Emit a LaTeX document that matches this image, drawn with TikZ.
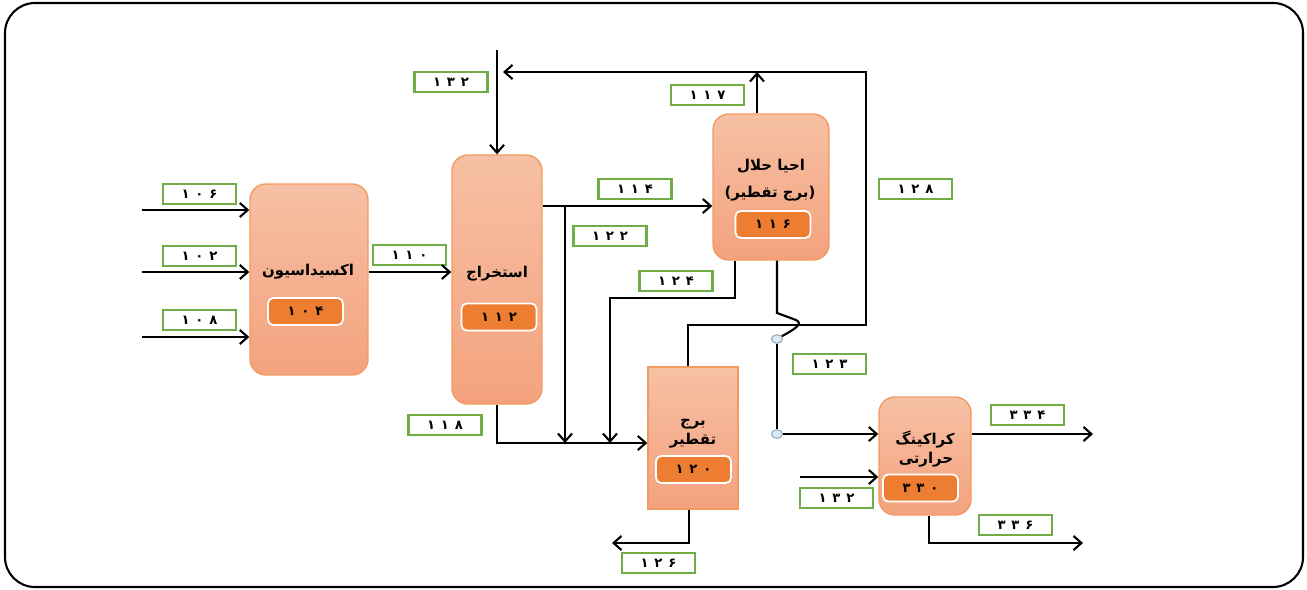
\documentclass[tikz,border=0pt]{standalone}
\usepackage{fontspec}
\newfontfamily\fa[Script=Arabic]{DejaVu Sans}
\newfontfamily\fanum[Script=Arabic,LetterSpace=45]{DejaVu Sans}
\TeXXeTstate=1
\usetikzlibrary{arrows.meta,shapes.geometric}
\definecolor{unittop}{HTML}{F6C0A4}
\definecolor{unitbot}{HTML}{F4A27D}
\definecolor{unitline}{HTML}{F39A62}
\definecolor{tagfill}{HTML}{ED7D31}
\definecolor{labline}{HTML}{70AD47}
\definecolor{dotfill}{HTML}{DDEBF7}
\definecolor{dotline}{HTML}{8FA9BC}
\newcommand{\rtl}[1]{\beginR #1\endR}

\begin{document}
\begin{tikzpicture}[x=0.02cm, y=-0.02cm, line width=1.2pt,
  >={Straight Barb[length=4.5pt,width=8pt]},
  unit/.style = {draw=unitline, line width=0.8pt, rounded corners=9pt, top color=unittop, bottom color=unitbot},
  tag/.style = {draw=white, line width=1pt, fill=tagfill, rounded corners=3pt, minimum width=1.5cm, minimum height=0.54cm, font=\fanum\bfseries\fontsize{7.5}{8}\selectfont},
  lab/.style = {draw=labline, line width=1.3pt, fill=white, minimum width=1.46cm, minimum height=0.4cm, inner sep=0pt, font=\fanum\bfseries\fontsize{7.5}{8}\selectfont},
  title/.style = {font=\fa\bfseries\fontsize{8.5}{10}\selectfont, inner sep=0pt},
  dot/.style = {ellipse, draw=dotline, fill=dotfill, line width=0.6pt, minimum width=0.22cm, minimum height=0.17cm, inner sep=0pt}]
  \useasboundingbox (0,0) rectangle (1307,589);
  \draw[line width=1.2pt, rounded corners=0.6cm] (5,3) rectangle (1303,587);

  % units
  \node[unit, minimum width=2.36cm, minimum height=3.82cm] (104) at (309,279.5) {};
  \node[unit, minimum width=1.8cm, minimum height=4.98cm] (112) at (497,279.5) {};
  \node[unit, minimum width=2.32cm, minimum height=2.92cm] (116) at (771,187) {};
  \node[unit, rounded corners=0pt, minimum width=1.8cm, minimum height=2.84cm] (120) at (693,438) {};
  \node[unit, minimum width=1.84cm, minimum height=2.36cm] (330) at (925,456) {};

  \node[title] (t104) at (308,272) {\rtl{اکسیداسیون}};
  \node[title] (t112) at (497,274) {\rtl{استخراج}};
  \node[title] (t116a) at (771,166) {\rtl{احیا حلال}};
  \node[title] (t116b) at (770,194) {\rtl{(برج تقطیر)}};
  \node[title] (t120a) at (693,424) {\rtl{برج}};
  \node[title] (t120b) at (693,441) {\rtl{تقطیر}};
  \node[title] (t330a) at (925,440) {\rtl{کراکینگ}};
  \node[title] (t330b) at (926,460) {\rtl{حرارتی}};

  \node[tag] (g104) at (305.5,311.5) {۱۰۴};
  \node[tag] (g112) at (499,317) {۱۱۲};
  \node[tag] (g116) at (773,224.5) {۱۱۶};
  \node[tag] (g120) at (693.5,469.5) {۱۲۰};
  \node[tag] (g330) at (920.5,488) {۳۳۰};

  % stream labels
  \node[lab] (106) at (199.5,194) {۱۰۶};
  \node[lab] (102) at (199.5,256) {۱۰۲};
  \node[lab] (108) at (199.5,320) {۱۰۸};
  \node[lab] (110) at (409.5,255) {۱۱۰};
  \node[lab] (132) at (451,82) {۱۳۲};
  \node[lab] (118) at (445,425) {۱۱۸};
  \node[lab] (114) at (635,189) {۱۱۴};
  \node[lab] (122) at (610,236) {۱۲۲};
  \node[lab] (124) at (676,281) {۱۲۴};
  \node[lab] (117) at (707.5,95) {۱۱۷};
  \node[lab] (128) at (915.5,189) {۱۲۸};
  \node[lab] (123) at (829.5,364) {۱۲۳};
  \node[lab] (126) at (658.5,563) {۱۲۶};
  \node[lab] (334) at (1027.5,415) {۳۳۴};
  \node[lab] (336) at (1015.5,525) {۳۳۶};
  \node[lab] (132b) at (836.5,498) {۱۳۲};

  % free ends and junctions
  \coordinate (in106) at (142,210);
  \coordinate (in102) at (142,272);
  \coordinate (in108) at (142,337);
  \coordinate (in132) at (497,50);
  \coordinate (j122) at (565,206);
  \coordinate (b118) at (497,443);
  \coordinate (k124) at (610,298);
  \coordinate (h123) at (777,313);
  \coordinate (c128) at (866,325);
  \coordinate (t128) at (866,72);
  \coordinate (e128) at (503,72);
  \coordinate (o126) at (612,543);
  \coordinate (o334) at (1093,434);
  \coordinate (o336) at (1083,543);
  \coordinate (i132) at (800,477);

  \draw[->] (in106) to (in106 -| 104.west);
  \draw[->] (in102) to (in102 -| 104.west);
  \draw[->] (in108) to (in108 -| 104.west);
  \draw[->] (104.east |- in102) to (112.west |- in102);
  \draw[->] (in132) to (112.north);
  \draw[->] (112.east |- j122) to (116.west |- j122);
  \draw[->] (j122) to (j122 |- b118);
  \draw[->] (112.south) |- (120.west |- b118);
  \draw[->] ([xshift=-0.72cm]116.south) |- (k124) to (k124 |- b118);
  \draw[->] ([xshift=-0.1cm]120.north) |- (c128) -- (t128) -- (e128);
  \draw[->] ([xshift=-0.28cm]116.north) to ([xshift=-0.28cm]116.north |- t128);
  \node[dot] (d1) at (777,339) {};
  \node[dot] (d2) at (777,434) {};
  \draw ([xshift=0.12cm]116.south) -- (h123) -- ++(19,7) .. controls +(9,4) and +(14,-8) .. (d1);
  \draw (d1) -- (d2);
  \draw[->] (d2) to (330.west |- d2);
  \draw[->] ([xshift=-0.08cm]120.south) |- (o126);
  \draw[->] (330.east |- o334) to (o334);
  \draw[->] ([xshift=0.08cm]330.south) |- (o336);
  \draw[->] (i132) to (330.west |- i132);
\end{tikzpicture}
\end{document}
